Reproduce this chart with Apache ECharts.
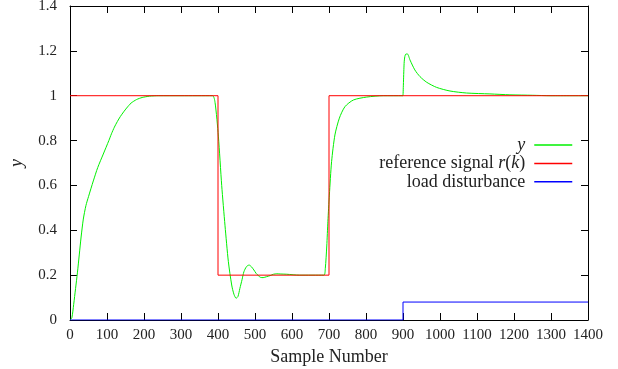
<!DOCTYPE html>
<html>
<head>
<meta charset="utf-8">
<script src="https://cdn.jsdelivr.net/npm/echarts@6/dist/echarts.min.js"></script>
<style>html,body{margin:0;padding:0;background:#fff}#c{width:618px;height:369px}</style>
</head>
<body>
<div id="c"></div>
<script>
// ---- data ----
var ySamples = [0,5,10,15,20,25,30,36,43,50,63,75,90,105,112,120,128,136,145,153,165,180,195,215,240,300,385,
  392,401,410,419,428,437,443,449,454,459,465,470,477,484,490,497,503,509,515,522,531,541,550,559,570,586,620,686,
  690,694,697,701,707,716,728,743,766,802,847,900,901,903,905,908,912,919,932,946,964,991,1027,1072,1135,1189,1250,1300,1400];
var yValues = [0,0.01,0.07,0.14,0.21,0.29,0.37,0.45,0.51,0.55,0.62,0.68,0.74,0.80,0.83,0.86,0.885,0.907,0.928,0.945,0.967,0.983,0.992,0.998,1.0,1.0,1.0,
  0.97,0.82,0.60,0.42,0.26,0.156,0.115,0.097,0.105,0.14,0.18,0.215,0.238,0.245,0.238,0.223,0.208,0.198,0.19,0.189,0.193,0.198,0.204,0.206,0.205,0.204,0.2,0.2,
  0.23,0.33,0.44,0.557,0.706,0.825,0.9,0.951,0.981,0.994,1.0,1.0,1.0,1.144,1.175,1.186,1.186,1.159,1.115,1.085,1.06,1.037,1.021,1.012,1.008,1.004,1.002,1.0,1.0];
var refSamples = [0,400,400,700,700,1400];
var refValues = [1,1,0.2,0.2,1,1];
var distSamples = [0,900,900,1400];
var distValues = [0,0,0.08,0.08];
var seriesNames = ['y','reference signal r(k)','load disturbance'];
var xAxisTitle = 'Sample Number';
var yAxisTitle = 'y';

function zip(a,b){return a.map(function(v,i){return [v,b[i]];});}

var FONT = '"Liberation Serif", serif';
var txt = '#222';
var chart = echarts.init(document.getElementById('c'), null, {renderer:'canvas'});
var axisCommon = {
  axisLine:{show:true,onZero:false,lineStyle:{color:'#000',width:1}},
  axisTick:{show:true,inside:true,length:7,lineStyle:{color:'#000',width:1}},
  splitLine:{show:false}
};
chart.setOption({
  animation:false,
  backgroundColor:'#fff',
  grid:{left:70,right:30,top:6,bottom:49,containLabel:false,outerBoundsMode:'none'},
  legend:{
    orient:'vertical', align:'right', right:40, top:131, itemGap:0.4,
    itemWidth:38, itemHeight:14,
    itemStyle:{opacity:0},
    lineStyle:{width:1.5},
    data:seriesNames,
    formatter:function(n){
      if(n==='y') return '{i|y}';
      if(n==='reference signal r(k)') return '{n|reference signal }{i|r}{n|(}{i|k}{n|)}';
      return '{n|'+n+'}';
    },
    textStyle:{fontFamily:FONT,fontSize:18,color:txt,padding:[0,4,0,0],lineHeight:18,
      rich:{n:{fontFamily:FONT,fontSize:18,color:txt,lineHeight:18},i:{fontFamily:FONT,fontSize:18,fontStyle:'italic',color:txt,lineHeight:18}}}
  },
  xAxis:[
    Object.assign({type:'value',min:0,max:1400,interval:100,position:'bottom',
      name:xAxisTitle,nameLocation:'middle',nameGap:24,
      nameTextStyle:{fontFamily:FONT,fontSize:18,color:txt},
      axisLabel:{fontFamily:FONT,fontSize:15,color:txt,margin:8,formatter:function(v){return String(v);}}},axisCommon),
    Object.assign({type:'value',min:0,max:1400,interval:100,position:'top',
      axisLabel:{show:false}},axisCommon)
  ],
  yAxis:[
    Object.assign({type:'value',min:0,max:1.4,interval:0.2,position:'left',
      name:yAxisTitle,nameLocation:'middle',nameGap:44,nameRotate:90,
      nameTextStyle:{fontFamily:FONT,fontSize:18,fontStyle:'italic',color:txt},
      axisLabel:{fontFamily:FONT,fontSize:15,color:txt,margin:13}},axisCommon),
    Object.assign({type:'value',min:0,max:1.4,interval:0.2,position:'right',
      axisLabel:{show:false}},axisCommon)
  ],
  series:[
    {name:seriesNames[0],type:'line',data:zip(ySamples,yValues),symbol:'none',smooth:0.25,
      lineStyle:{color:'#00f000',width:1},itemStyle:{color:'#00f000'}},
    {name:seriesNames[1],type:'line',data:zip(refSamples,refValues),symbol:'none',
      lineStyle:{color:'#ff0000',width:1},itemStyle:{color:'#ff0000'}},
    {name:seriesNames[2],type:'line',data:zip(distSamples,distValues),symbol:'none',
      lineStyle:{color:'#0000ff',width:1},itemStyle:{color:'#0000ff'}}
  ]
});
</script>
</body>
</html>
